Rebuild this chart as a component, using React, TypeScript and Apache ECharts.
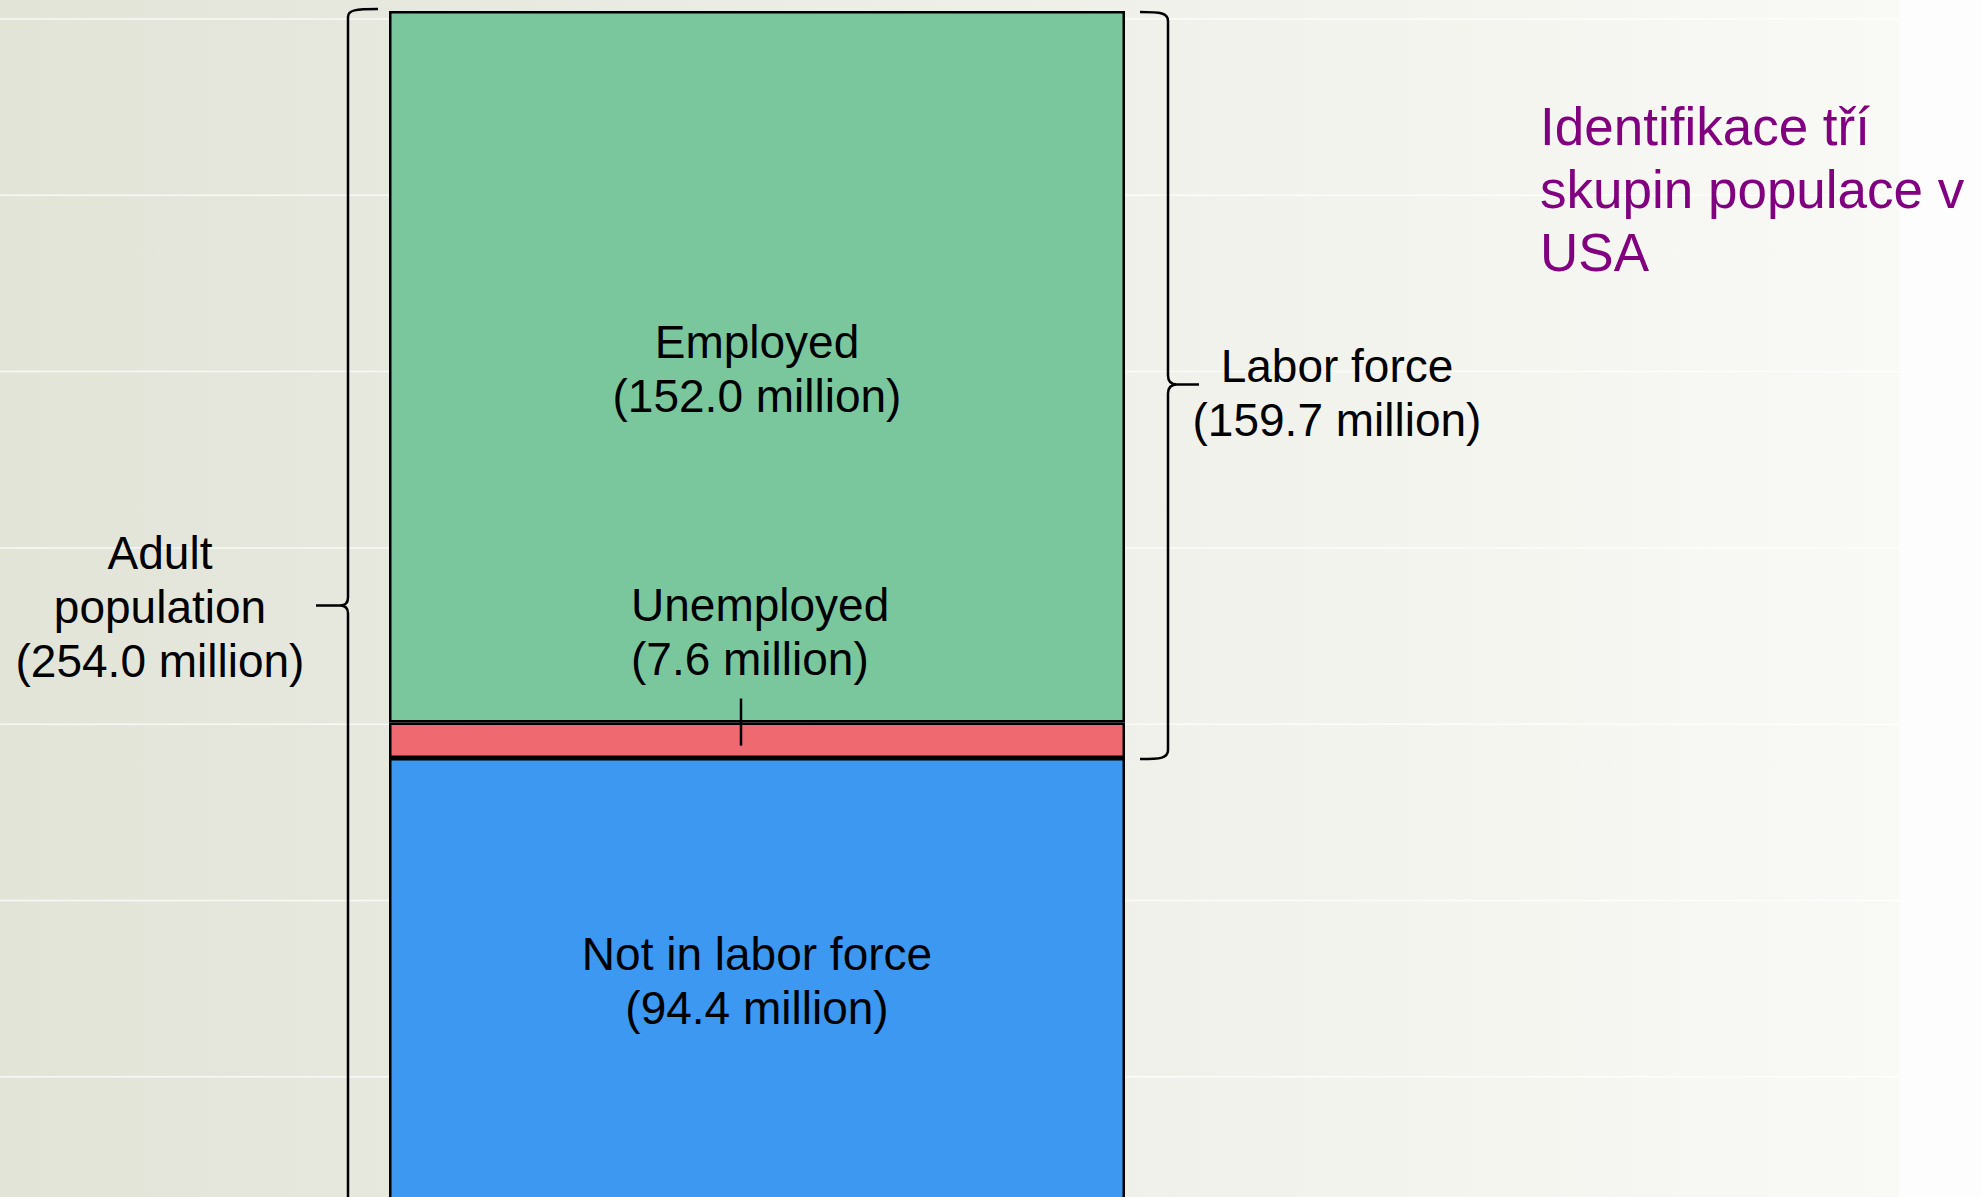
import React, { useEffect, useRef } from "react";
import * as echarts from "echarts";

// ---- data ----
const barCategory = ["USA"];
const segmentNames = ["Not in labor force", "Unemployed", "Employed"];
const segmentValues = [94.4, 7.6, 152.0];
const groupNames = ["Adult\npopulation", "Labor force"];
const groupTotals = [254.0, 159.7];
const titleLines = ["Identifikace tří", "skupin populace v", "USA"];

// ---- styles ----
const segmentColors = ["#3c98f0", "#ee6a70", "#7bc79d"];
const FONT = '"Liberation Sans", Arial, sans-serif';

const Brace = echarts.graphic.extendShape({
  shape: { x: 0, top: 0, bottom: 0, mid: 0, hook: 30, tip: -30, r: 9 },
  buildPath(ctx: any, s: any) {
    const sgnTip = s.tip > 0 ? 1 : -1;
    const x = s.x;
    ctx.moveTo(x + s.hook, s.top);
    ctx.bezierCurveTo(x + s.hook * 0.25, s.top, x, s.top + 1, x, s.top + s.r);
    ctx.lineTo(x, s.mid - s.r);
    ctx.quadraticCurveTo(x, s.mid, x + sgnTip * s.r, s.mid);
    ctx.lineTo(x + s.tip, s.mid);
    ctx.moveTo(x + sgnTip * s.r, s.mid);
    ctx.quadraticCurveTo(x, s.mid, x, s.mid + s.r);
    ctx.lineTo(x, s.bottom - s.r);
    ctx.bezierCurveTo(x, s.bottom - 1, x + s.hook * 0.25, s.bottom, x + s.hook, s.bottom);
  },
});
echarts.graphic.registerShape("brace", Brace);

export default function App() {
  const ref = useRef<HTMLDivElement>(null);

  useEffect(() => {
    document.body.style.margin = "0";
    document.body.style.overflow = "hidden";
    document.documentElement.style.overflow = "hidden";
    const chart = echarts.init(ref.current!, undefined, { renderer: "svg" });
    const total = segmentValues.reduce((a, b) => a + b, 0);

    const series = segmentNames.map((name, i) => {
      const isSmall = i === 1;
      return {
        name,
        type: "bar",
        stack: "pop",
        barWidth: "100%",
        data: [segmentValues[i]],
        itemStyle: { color: segmentColors[i], borderColor: "#000", borderWidth: 2.5 },
        label: {
          show: true,
          position: isSmall ? "top" : "inside",
          distance: isSmall ? 37 : 5,
          align: isSmall ? "left" : "center",
          offset: isSmall ? [-126, 0] : [0, 2],
          formatter: `${name}\n(${segmentValues[i].toFixed(1)} million)`,
          color: "#000",
          fontSize: 46,
          lineHeight: 54,
          fontFamily: FONT,
        },
      };
    });

    chart.setOption({
      animation: false,
      backgroundColor: new echarts.graphic.LinearGradient(0, 0, 1, 0, [
        { offset: 0, color: "#e2e4d8" },
        { offset: 0.5, color: "#eeefe7" },
        { offset: 0.958, color: "#f9f9f6" },
        { offset: 0.9586, color: "#fdfdfd" },
        { offset: 1, color: "#fdfdfd" },
      ]),
      title: {
        text: titleLines.join("\n"),
        left: 1540,
        top: 95,
        padding: 0,
        textStyle: {
          color: "#800080",
          fontSize: 53,
          lineHeight: 63,
          fontWeight: "normal",
          fontFamily: FONT,
        },
      },
      grid: { left: 389, width: 736, top: 11, height: 1189 },
      xAxis: { type: "category", data: barCategory, show: false },
      yAxis: { type: "value", min: 0, max: total, show: false, splitLine: { show: false } },
      series,
    });

    const yPx = (v: number) => chart.convertToPixel({ yAxisIndex: 0 }, v) as number;
    const cx = chart.convertToPixel({ xAxisIndex: 0 }, barCategory[0]) as number;
    const halfW = 368;

    const yTop = yPx(total);
    const yBottom = yPx(0);
    const yLaborBottom = yPx(segmentValues[0]);
    const yRedTop = yPx(segmentValues[0] + segmentValues[1]);

    const bgLines: any[] = [];
    for (let i = 0; i < 7; i++) {
      const y = 19 + i * 176.3;
      bgLines.push({
        type: "line",
        z: -10,
        silent: true,
        shape: { x1: 0, y1: y, x2: 1899, y2: y },
        style: { stroke: "rgba(255,255,255,0.75)", lineWidth: 1.5 },
      });
    }

    const leftX = cx - halfW - 41;
    const leftMid = (yTop + yBottom) / 2;
    const rightX = cx + halfW + 43;
    const rightMid = (yTop + yLaborBottom) / 2;

    chart.setOption({
      graphic: [
        ...bgLines,
        {
          type: "brace",
          z: 10,
          shape: { x: leftX, top: yTop - 2, bottom: yBottom + 14, mid: leftMid, hook: 30, tip: -32, r: 8 },
          style: { stroke: "#000", lineWidth: 2.5, fill: null },
        },
        {
          type: "brace",
          z: 10,
          shape: { x: rightX, top: yTop + 1, bottom: yLaborBottom + 1, mid: rightMid, hook: -28, tip: 31, r: 9 },
          style: { stroke: "#000", lineWidth: 2.5, fill: null },
        },
        {
          type: "line",
          z: 10,
          shape: {
            x1: cx - 16,
            y1: yRedTop - 24,
            x2: cx - 16,
            y2: yPx(segmentValues[0] + segmentValues[1] * 0.35),
          },
          style: { stroke: "#000", lineWidth: 2.5 },
        },
        {
          type: "text",
          z: 10,
          x: leftX - 32 - 156,
          y: leftMid + 1,
          style: {
            text: `${groupNames[0]}\n(${groupTotals[0].toFixed(1)} million)`,
            fill: "#000",
            fontSize: 46,
            fontFamily: FONT,
            lineHeight: 54,
            align: "center",
            verticalAlign: "middle",
            textAlign: "center",
            textVerticalAlign: "middle",
          },
        },
        {
          type: "text",
          z: 10,
          x: rightX + 31 + 138,
          y: rightMid + 8,
          style: {
            text: `${groupNames[1]}\n(${groupTotals[1].toFixed(1)} million)`,
            fill: "#000",
            fontSize: 46,
            fontFamily: FONT,
            lineHeight: 54,
            align: "center",
            verticalAlign: "middle",
            textAlign: "center",
            textVerticalAlign: "middle",
          },
        },
      ],
    });

    return () => chart.dispose();
  }, []);

  return (
    <div
      ref={ref}
      style={{ position: "fixed", left: 0, top: 0, width: 1982, height: 1240 }}
    />
  );
}
